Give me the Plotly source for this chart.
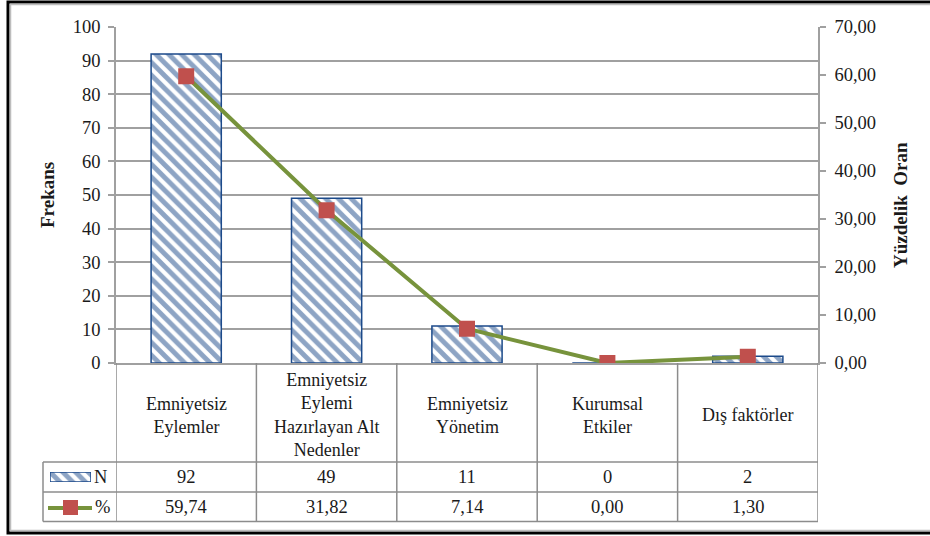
import plotly.graph_objects as go

# --- data -------------------------------------------------------------
categories = ["Emniyetsiz Eylemler", "Emniyetsiz Eylemi Hazırlayan Alt Nedenler",
              "Emniyetsiz Yönetim", "Kurumsal Etkiler", "Dış faktörler"]
category_labels = ["Emniyetsiz<br>Eylemler",
                   "Emniyetsiz<br>Eylemi<br>Hazırlayan Alt<br>Nedenler",
                   "Emniyetsiz<br>Yönetim",
                   "Kurumsal<br>Etkiler",
                   "Dış faktörler"]
frequency = [92, 49, 11, 0, 2]
percent = [59.74, 31.82, 7.14, 0.00, 1.30]

# --- styling ----------------------------------------------------------
W, H = 930, 536
FONT = "Liberation Serif, Times New Roman, serif"
FS = 18.5
BLUE = "#1C4A8A"
RED = "#C0504D"
GREEN = "#77933C"
GRID = "#A0A0A0"
TABLE = "#8C8C8C"
TEXT = "#1a1a1a"

# plot area in pixels
PL, PR, PT, PB = 116, 818, 27, 363


def px(x):
    return x / W


def py(y):
    return 1 - y / H


def fmt(v):
    return f"{v:.2f}".replace(".", ",")


hatch = dict(shape="\\", fgcolor=BLUE, bgcolor="white", size=9, solidity=0.55)

fig = go.Figure()

fig.add_trace(go.Bar(
    x=categories, y=frequency, name="N", width=0.5,
    marker=dict(color="white", line=dict(color=BLUE, width=1.5), pattern=hatch),
    xaxis="x", yaxis="y",
))

fig.add_trace(go.Scatter(
    x=categories, y=percent, name="%", mode="lines+markers",
    line=dict(color=GREEN, width=4),
    marker=dict(symbol="square", size=16, color=RED, line=dict(width=0)),
    xaxis="x", yaxis="y2",
))

# legend key for the N row of the data table
fig.add_trace(go.Bar(
    x=[1], y=[0], orientation="h", width=1, showlegend=False,
    marker=dict(color="white", line=dict(color=BLUE, width=1.5), pattern=hatch),
    xaxis="x3", yaxis="y3", hoverinfo="skip",
))

tickfont = dict(family=FONT, size=FS, color=TEXT)

fig.update_layout(
    width=W, height=H,
    autosize=False,
    margin=dict(l=0, r=0, t=0, b=0, pad=0, autoexpand=False),
    paper_bgcolor="white", plot_bgcolor="white",
    separators=",.",
    showlegend=False,
    font=dict(family=FONT, size=FS, color=TEXT),
    xaxis=dict(domain=[px(PL), px(PR)], type="category", range=[-0.5, 4.5],
               showticklabels=False, ticks="", showgrid=False,
               showline=True, linecolor=GRID, linewidth=1.5,
               anchor="y", zeroline=False, automargin=False),
    yaxis=dict(domain=[py(PB), py(PT)], range=[0, 100], dtick=10,
               showgrid=True, gridcolor=GRID, gridwidth=1.5,
               showline=True, linecolor=GRID, linewidth=1.5,
               ticks="outside", ticklen=6, tickcolor=GRID, tickwidth=1.5,
               tickfont=tickfont, zeroline=False, anchor="x",
               ticklabelstandoff=4, automargin=False),
    yaxis2=dict(domain=[py(PB), py(PT)], range=[0, 70], dtick=10,
                tickformat=".2f", overlaying="y", side="right",
                showgrid=False, showline=True, linecolor=GRID, linewidth=1.5,
                ticks="outside", ticklen=6, tickcolor=GRID, tickwidth=1.5,
                tickfont=tickfont, zeroline=False, anchor="x",
                ticklabelstandoff=5, automargin=False),
    xaxis3=dict(domain=[px(50), px(91)], range=[0, 1], visible=False,
                anchor="y3", fixedrange=True, automargin=False),
    yaxis3=dict(domain=[py(482), py(472)], range=[-0.5, 0.5], visible=False,
                anchor="x3", fixedrange=True, automargin=False),
)

shapes = []
line_style = dict(color=TABLE, width=1.5)

# data table: horizontal rules
for y in (462, 492, 521.5):
    shapes.append(dict(type="line", xref="paper", yref="paper",
                       x0=px(43), x1=px(PR), y0=py(y), y1=py(y), line=line_style))
# data table: left legend column border
shapes.append(dict(type="line", xref="paper", yref="paper",
                   x0=px(43), x1=px(43), y0=py(462), y1=py(521.5), line=line_style))
# data table: category column borders
for k in range(len(categories) + 1):
    shapes.append(dict(type="line", xref="x", yref="paper",
                       x0=k - 0.5, x1=k - 0.5, y0=py(PB), y1=py(521.5),
                       line=line_style))

# legend key for the % row
shapes.append(dict(type="line", xref="paper", yref="paper",
                   x0=px(48), x1=px(92), y0=py(508), y1=py(508),
                   line=dict(color=GREEN, width=4)))
shapes.append(dict(type="rect", xref="paper", yref="paper",
                   x0=px(63), x1=px(78), y0=py(515), y1=py(500),
                   fillcolor=RED, line=dict(width=0)))

# outer frame (its right side runs past the page edge)
shapes.append(dict(type="rect", xref="paper", yref="paper",
                   x0=px(8), x1=px(1100), y0=py(533), y1=py(2),
                   line=dict(color="black", width=3)))
shapes.append(dict(type="rect", xref="paper", yref="paper",
                   x0=px(10.5), x1=px(1100), y0=py(530.5), y1=py(4.5),
                   line=dict(color="#BDBDBD", width=1.5)))

fig.update_layout(shapes=shapes)

annotations = []
for cat, lab, n, p in zip(categories, category_labels, frequency, percent):
    annotations.append(dict(x=cat, xref="x", y=py(415), yref="paper",
                            text=lab, showarrow=False, xanchor="center",
                            yanchor="middle", align="center",
                            font=dict(family=FONT, size=18)))
    annotations.append(dict(x=cat, xref="x", y=py(477), yref="paper",
                            text=str(n), showarrow=False, yanchor="middle",
                            font=dict(family=FONT, size=FS)))
    annotations.append(dict(x=cat, xref="x", y=py(507), yref="paper",
                            text=fmt(p), showarrow=False, yanchor="middle",
                            font=dict(family=FONT, size=FS)))

annotations.append(dict(x=px(109), y=py(477), xref="paper", yref="paper",
                        text="N", showarrow=False, xanchor="right",
                        yanchor="middle", font=dict(family=FONT, size=FS)))
annotations.append(dict(x=px(112), y=py(507), xref="paper", yref="paper",
                        text="%", showarrow=False, xanchor="right",
                        yanchor="middle", font=dict(family=FONT, size=FS)))

annotations.append(dict(x=px(47), y=py(195), xref="paper", yref="paper",
                        text="<b>Frekans</b>", textangle=-90, showarrow=False,
                        xanchor="center", yanchor="middle",
                        font=dict(family=FONT, size=19)))
annotations.append(dict(x=px(900), y=py(205), xref="paper", yref="paper",
                        text="<b>Yüzdelik  Oran</b>", textangle=-90, showarrow=False,
                        xanchor="center", yanchor="middle",
                        font=dict(family=FONT, size=19)))

fig.update_layout(annotations=annotations)

fig.write_html("out.html")
